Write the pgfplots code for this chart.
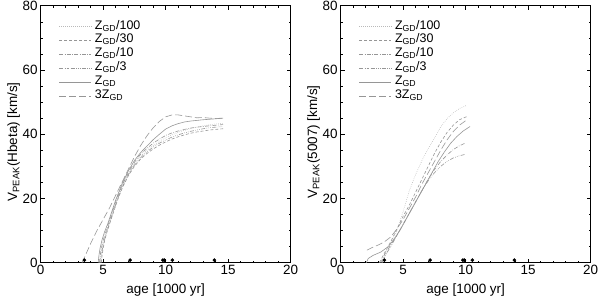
\documentclass[border=0pt]{standalone}
\usepackage{fontspec}
\setmainfont{Liberation Sans}
\usepackage{pgfplots}
\pgfplotsset{compat=1.18}
\definecolor{lg}{RGB}{150,150,150}
\definecolor{llg}{RGB}{185,185,185}
\tikzset{
  sdot/.style={llg, line width=0.6pt, dash pattern=on 0.6pt off 1.4pt},
  sdash/.style={lg, line width=0.6pt, dash pattern=on 3pt off 2pt},
  sdd/.style={lg, line width=0.6pt, dash pattern=on 4pt off 1.5pt on 0.6pt off 1.5pt},
  sddd/.style={lg, line width=0.6pt, dash pattern=on 4pt off 1.5pt on 0.6pt off 1.3pt on 0.6pt off 1.3pt on 0.6pt off 1.5pt},
  ssol/.style={lg, line width=0.6pt},
  slong/.style={lg, line width=0.6pt, dash pattern=on 7pt off 3pt},
}
\pgfplotsset{
  common/.style={
    scale only axis, width=250bp, height=257bp,
    xmin=0, xmax=20, ymin=0, ymax=80,
    xtick={0,5,...,20}, ytick={0,20,...,80},
    minor x tick num=4, minor y tick num=3,
    tick align=inside, major tick length=4bp, minor tick length=2.2bp,
    tick style={black, line width=0.5pt},
    axis line style={black, line width=0.6pt},
    every tick label/.append style={font=\fontsize{13.5}{15}\selectfont},
    xticklabel style={yshift=1bp},
    yticklabel style={xshift=0.5bp},
    xlabel={age [1000 yr]},
    every axis x label/.style={at={(axis description cs:0.5,0)}, anchor=north, yshift=-18bp, font=\fontsize{13.5}{15}\selectfont},
    every axis y label/.style={at={(axis description cs:-0.108,0.47)}, rotate=90, anchor=center, font=\fontsize{13.5}{15}\selectfont},
    /pgf/number format/assume math mode=true,
    legend cell align=left,
    legend style={draw=none, fill=none, at={(axis description cs:0.072,0.945)}, anchor=north west,
      inner sep=0pt, row sep=0.9bp, column sep=3bp,
      nodes={inner sep=0.5pt, text height=8.5bp, text depth=3.5bp, font=\fontsize{12.5}{13}\selectfont}},
    legend image code/.code={\draw[##1] (0bp,0bp) -- (32bp,0bp);},
    clip=false,
  }
}
\begin{document}
\begin{tikzpicture}
\useasboundingbox (-40.7bp,-34.3bp) rectangle (559.3bp,262.7bp);
% ---------- left: Hbeta ----------
\begin{axis}[common, at={(0,0)}, anchor=south west,
  ylabel={V\textsubscript{PEAK}(Hbeta) [km/s]}]
\addplot[sdot] coordinates {(4.75,0)(4.8,2)(4.9,4.5)(5.05,7)(5.25,9.5)(5.5,12.5)(5.8,16)(6.1,19.5)(6.5,23.5)(7,27.5)(7.5,30.8)(8,33.2)(8.5,35)(9,36.5)(9.5,37.8)(10,38.9)(10.5,39.8)(11,40.6)(11.5,41.2)(12,41.8)(12.5,42.2)(13,42.6)(13.5,42.9)(14,43.2)(14.6,43.4)};
\addlegendentry{Z\textsubscript{GD}/100}
\addplot[sdash] coordinates {(4.85,0)(4.9,2)(5.0,4.5)(5.12,7)(5.3,9.5)(5.55,12.5)(5.85,16)(6.15,19.5)(6.55,23.5)(7,27)(7.5,30)(8,32.3)(8.5,34)(9,35.4)(9.5,36.6)(10,37.6)(10.5,38.5)(11,39.2)(11.5,39.8)(12,40.3)(12.5,40.7)(13,41)(13.5,41.3)(14,41.5)(14.6,41.7)};
\addlegendentry{Z\textsubscript{GD}/30}
\addplot[sdd] coordinates {(4.7,0)(4.75,2)(4.85,4.5)(5.0,7)(5.2,9.5)(5.45,12.5)(5.75,16)(6.05,19.5)(6.5,24)(7,28)(7.5,31.3)(8,33.8)(8.5,35.6)(9,37.2)(9.5,38.5)(10,39.6)(10.5,40.4)(11,41)(11.5,41.5)(12,41.9)(12.5,42.2)(13,42.4)(13.5,42.6)(14,42.8)(14.6,43)};
\addlegendentry{Z\textsubscript{GD}/10}
\addplot[sddd] coordinates {(4.8,0)(4.85,2)(4.95,4.5)(5.1,7)(5.28,9.5)(5.52,12.5)(5.82,16)(6.12,19.5)(6.52,23.5)(7,27.3)(7.5,30.4)(8,32.7)(8.5,34.5)(9,36)(9.5,37.2)(10,38.2)(10.5,39.1)(11,39.8)(11.5,40.4)(12,40.9)(12.5,41.3)(13,41.7)(13.5,42)(14,42.2)(14.6,42.4)};
\addlegendentry{Z\textsubscript{GD}/3}
\addplot[ssol] coordinates {(4.6,0)(4.65,2)(4.75,4.5)(4.9,7)(5.1,9.5)(5.4,12.5)(5.7,16)(6,19.5)(6.5,24.5)(7,28.5)(7.5,31.8)(8,34.3)(8.5,36.3)(9,38.3)(9.5,40)(10,41.6)(10.5,42.6)(11,43.3)(11.5,43.8)(12,44.1)(13,44.5)(14,44.8)(14.6,45)};
\addlegendentry{Z\textsubscript{GD}}
\addplot[slong] coordinates {(3.3,0)(3.6,2.5)(4,6)(4.5,10)(5,13.5)(5.5,17)(6,21)(6.5,25)(7,29)(7.5,33)(8,36.5)(8.5,39.5)(9,42)(9.5,44)(10,45.4)(10.5,46)(11,46)(11.5,45.7)(12,45.4)(12.5,45.1)(13,45.2)(13.5,45)(14,44.9)(14.6,45)};
\addlegendentry{3Z\textsubscript{GD}}
\addplot[only marks, mark=*, mark size=1.6bp, black] coordinates {(3.5,0.8)(7.15,0.8)(9.78,0.8)(9.9,0.8)(10.53,0.8)(13.9,0.8)};
\end{axis}
% ---------- right: 5007 ----------
\begin{axis}[common, at={(300bp,0)}, anchor=south west,
  ylabel={V\textsubscript{PEAK}(5007) [km/s]}]
\addplot[sdot] coordinates {(3.3,0)(3.6,2.5)(4,5.5)(4.5,10)(5,16)(5.5,22.5)(6,27.5)(6.5,31.8)(7,35.5)(7.5,38.8)(8,42.3)(8.5,44.8)(9,46.6)(9.5,48)(10.1,49)};
\addlegendentry{Z\textsubscript{GD}/100}
\addplot[sdash] coordinates {(3.1,0)(3.5,3)(4,6.5)(4.5,10.5)(5,14.5)(5.5,18)(6,22)(6.5,26)(7,30)(7.5,34)(8,37.5)(8.5,40.5)(9,42.8)(9.5,44.5)(10.1,45.5)};
\addlegendentry{Z\textsubscript{GD}/30}
\addplot[sdd] coordinates {(3.2,0)(3.5,2.5)(4,5.5)(4.5,8.5)(5,12)(5.5,15.5)(6,19)(6.5,22.5)(7,26)(7.5,29)(8,31.5)(8.5,33.5)(9,35.2)(9.5,36.4)(9.95,37.2)};
\addlegendentry{Z\textsubscript{GD}/10}
\addplot[sddd] coordinates {(3.3,0)(3.6,2.5)(4,5)(4.5,8.5)(5,12)(5.5,15.5)(6,19)(6.5,22.5)(7,25.5)(7.5,28)(8,30)(8.5,31.5)(9,32.6)(9.5,33.3)(9.95,33.7)};
\addlegendentry{Z\textsubscript{GD}/3}
\addplot[ssol] coordinates {(2.05,0)(2.2,1.3)(2.6,2.3)(3.2,3.3)(3.8,5)(4.3,7.5)(4.8,10.5)(5.3,14)(5.8,17.5)(6.3,21)(6.8,24.5)(7.3,28)(7.8,31.5)(8.3,34.5)(8.8,37.2)(9.3,39.3)(9.8,41)(10.35,42.4)};
\addlegendentry{Z\textsubscript{GD}}
\addplot[slong] coordinates {(2.1,3.9)(2.5,4.7)(3,5.5)(3.5,6.5)(4,8)(4.5,10.5)(5,13.5)(5.5,17)(6,20.5)(6.5,24.5)(7,28)(7.5,31.5)(8,35)(8.5,38.2)(9,40.8)(9.5,42.8)(10.1,44.5)};
\addlegendentry{3Z\textsubscript{GD}}
\addplot[only marks, mark=*, mark size=1.6bp, black] coordinates {(3.5,0.8)(7.15,0.8)(9.78,0.8)(9.9,0.8)(10.53,0.8)(13.9,0.8)};
\end{axis}
\end{tikzpicture}
\end{document}
